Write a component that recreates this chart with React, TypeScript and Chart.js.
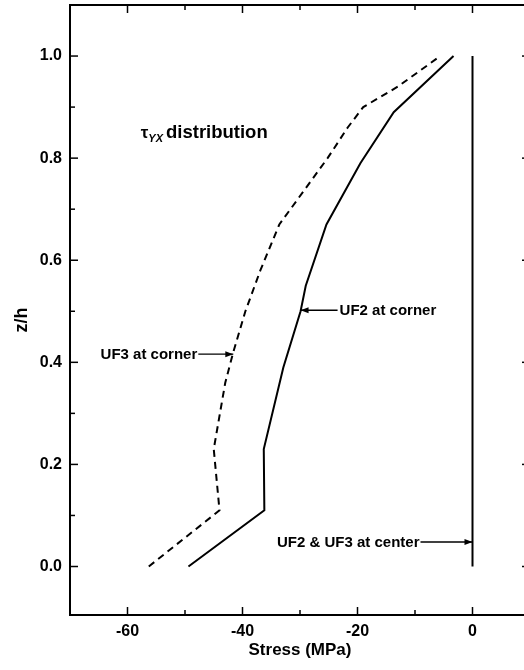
import React, { useEffect, useRef } from "react";
import { Chart, registerables } from "chart.js";

Chart.register(...registerables);

// z/h levels and stress (MPa)
const zUF2Corner = [0, 0.11, 0.23, 0.39, 0.5, 0.55, 0.67, 0.79, 0.89, 1.0];
const stressUF2Corner = [-49.4, -36.2, -36.3, -32.9, -29.9, -29.0, -25.4, -19.5, -13.7, -3.3];
const zUF3Corner = [0, 0.11, 0.23, 0.36, 0.42, 0.5, 0.58, 0.67, 0.8, 0.86, 0.9, 0.94, 1.0];
const stressUF3Corner = [-56.3, -44.0, -45.0, -43.0, -41.6, -39.5, -36.9, -33.6, -25.2, -21.7, -19.0, -13.0, -5.6];
const zCenter = [0, 1.0];
const stressCenter = [0, 0];

// axis ticks
const xMajorTicks = [-60, -40, -20, 0];
const xMinorTicks = [-50, -30, -10];
const yMajorTicks = [0, 0.2, 0.4, 0.6, 0.8, 1.0];
const yMinorTicks = [0.1, 0.3, 0.5, 0.7, 0.9];

// callouts
const calloutTexts = ["UF2 at corner", "UF3 at corner", "UF2 & UF3 at center"];
const calloutStress = [-29.9, -41.6, 0];
const calloutZ = [0.502, 0.416, 0.048];
const calloutTextSide = ["right", "left", "left"];
const calloutArrowLen = [37, 35, 52];

// panel title
const titleSymbol = "τ";
const titleSub = "YX";
const titleRest = "distribution";
const titleStress = -57.7;
const titleZ = 0.839;

const FONT = "'Liberation Sans', Arial, Helvetica, sans-serif";

const toPts = (xs: number[], ys: number[]) => xs.map((x, i) => ({ x, y: ys[i] }));

const framePlugin = {
  id: "frameAndNotes",
  afterDatasetsDraw(chart: any) {
    const { ctx, chartArea: a, scales } = chart;
    const x = scales.x;
    const y = scales.y;
    ctx.save();
    ctx.strokeStyle = "#000";
    ctx.fillStyle = "#000";
    ctx.lineWidth = 2;
    ctx.strokeRect(a.left, a.top, a.right - a.left, a.bottom - a.top);

    const seg = (x1: number, y1: number, x2: number, y2: number) => {
      ctx.beginPath();
      ctx.moveTo(x1, y1);
      ctx.lineTo(x2, y2);
      ctx.stroke();
    };
    ctx.lineWidth = 1.5;
    const xt = (v: number, len: number) => {
      const px = x.getPixelForValue(v);
      seg(px, a.bottom, px, a.bottom - len);
      seg(px, a.top, px, a.top + len);
    };
    const yt = (v: number, len: number) => {
      const py = y.getPixelForValue(v);
      seg(a.left, py, a.left + len, py);
      seg(a.right, py, a.right - len, py);
    };
    xMajorTicks.forEach((v) => xt(v, 8));
    xMinorTicks.forEach((v) => xt(v, 5));
    yMajorTicks.forEach((v) => yt(v, 8));
    yMinorTicks.forEach((v) => yt(v, 5));

    // callouts
    ctx.font = `bold 15px ${FONT}`;
    ctx.textBaseline = "middle";
    calloutTexts.forEach((t, i) => {
      const tx = x.getPixelForValue(calloutStress[i]);
      const ty = y.getPixelForValue(calloutZ[i]);
      const right = calloutTextSide[i] === "right";
      const len = calloutArrowLen[i];
      const ex = right ? tx + len : tx - len;
      ctx.lineWidth = 1.4;
      seg(ex, ty, tx, ty);
      const dir = right ? 1 : -1;
      ctx.beginPath();
      ctx.moveTo(tx, ty);
      ctx.lineTo(tx + dir * 8, ty - 3);
      ctx.lineTo(tx + dir * 8, ty + 3);
      ctx.closePath();
      ctx.fill();
      ctx.textAlign = right ? "left" : "right";
      ctx.fillText(t, right ? ex + 2 : ex - 1, ty + 1);
    });

    // panel title
    const px = x.getPixelForValue(titleStress);
    const py = y.getPixelForValue(titleZ);
    ctx.textAlign = "left";
    ctx.textBaseline = "alphabetic";
    ctx.font = `bold 17px ${FONT}`;
    ctx.fillText(titleSymbol, px, py);
    const w1 = ctx.measureText(titleSymbol).width;
    ctx.font = `italic bold 11px ${FONT}`;
    ctx.fillText(titleSub, px + w1, py + 4);
    const w2 = ctx.measureText(titleSub).width;
    ctx.font = `bold 18.5px ${FONT}`;
    ctx.fillText(titleRest, px + w1 + w2 + 3, py);
    ctx.restore();
  },
};

export default function App() {
  const ref = useRef<HTMLCanvasElement | null>(null);
  useEffect(() => {
    if (!ref.current) return;
    const lineBase = {
      borderColor: "#000",
      borderWidth: 2,
      pointRadius: 0,
      pointHoverRadius: 0,
      fill: false,
      tension: 0,
      showLine: true,
    };
    const chart = new Chart(ref.current, {
      type: "scatter",
      data: {
        datasets: [
          { ...lineBase, label: "UF2 at corner", data: toPts(stressUF2Corner, zUF2Corner) },
          { ...lineBase, label: "UF3 at corner", borderDash: [7, 5], data: toPts(stressUF3Corner, zUF3Corner) },
          { ...lineBase, label: "UF2 & UF3 at center", data: toPts(stressCenter, zCenter) },
        ],
      },
      options: {
        responsive: false,
        devicePixelRatio: 1,
        animation: false,
        events: [],
        layout: { padding: { left: 0, top: 5, right: 10, bottom: 0 } },
        plugins: { legend: { display: false }, tooltip: { enabled: false } },
        scales: {
          x: {
            type: "linear",
            position: "bottom",
            min: -70,
            max: 10,
            afterBuildTicks: (s: any) => {
              s.ticks = xMajorTicks.map((v) => ({ value: v }));
            },
            afterFit: (s: any) => {
              s.height = 55;
              s.paddingLeft = 0;
              s.paddingRight = 0;
            },
            grid: { display: false, drawTicks: false },
            border: { display: false },
            ticks: {
              autoSkip: false,
              maxRotation: 0,
              padding: 7,
              color: "#000",
              font: { family: FONT, size: 16, weight: "bold" },
              callback: (v: any) => String(v),
            },
            title: {
              display: true,
              text: "Stress (MPa)",
              color: "#000",
              font: { family: FONT, size: 17, weight: "bold" },
              padding: { top: 0, bottom: 9 },
            },
          },
          y: {
            type: "linear",
            min: -0.095,
            max: 1.1,
            afterBuildTicks: (s: any) => {
              s.ticks = yMajorTicks.map((v) => ({ value: v }));
            },
            afterFit: (s: any) => {
              s.width = 70;
              s.paddingTop = 0;
              s.paddingBottom = 0;
            },
            grid: { display: false, drawTicks: false },
            border: { display: false },
            ticks: {
              autoSkip: false,
              padding: 8,
              color: "#000",
              font: { family: FONT, size: 16, weight: "bold" },
              callback: (v: any) => Number(v).toFixed(1),
            },
            title: {
              display: true,
              text: "z/h    ",
              color: "#000",
              font: { family: FONT, size: 18, weight: "bold" },
              padding: { top: 11, bottom: 0 },
            },
          },
        },
      },
      plugins: [framePlugin],
    } as any);
    return () => chart.destroy();
  }, []);

  return (
    <div
      style={{
        position: "fixed",
        left: 0,
        top: 0,
        width: 524,
        height: 670,
        overflow: "hidden",
        background: "#fff",
      }}
    >
      <canvas ref={ref} width={540} height={670} style={{ display: "block", width: 540, height: 670 }} />
    </div>
  );
}
